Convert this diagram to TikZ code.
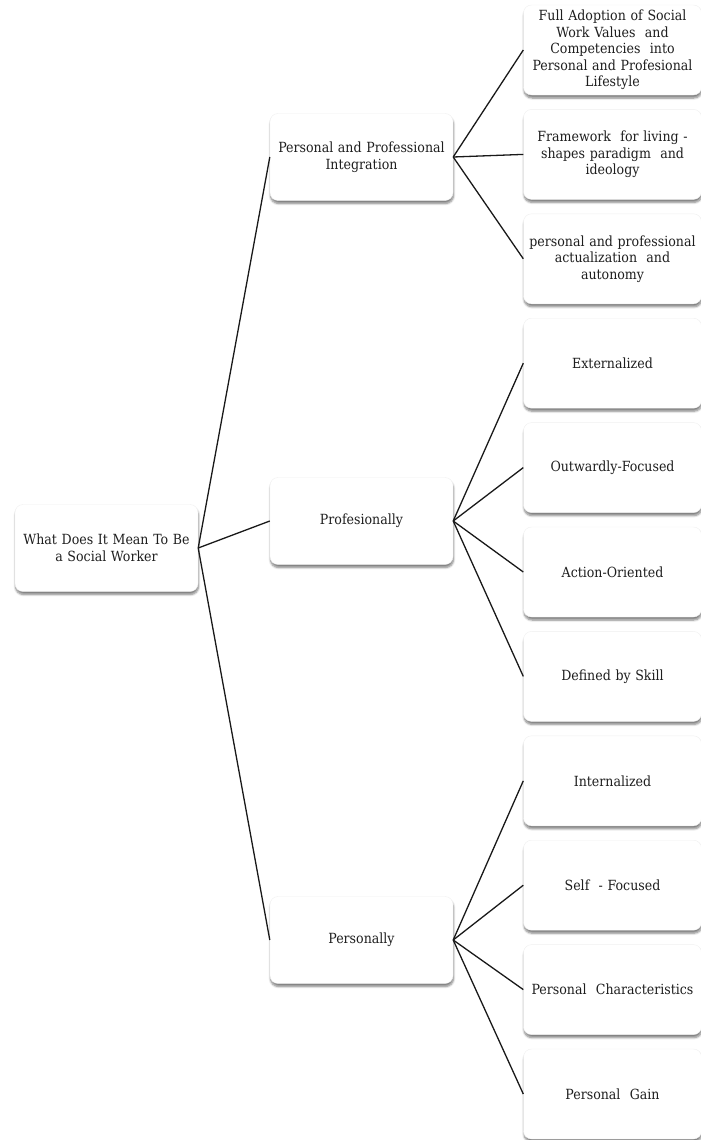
\documentclass[tikz,border=0pt]{standalone}
\usepackage{fontspec}
\setmainfont{DejaVu Serif Condensed}
\usetikzlibrary{shadows.blur}
\definecolor{txt}{HTML}{1E1E1E}
\tikzset{
  box/.style={rounded corners=8pt, fill=white, draw=gray!12, line width=0.4pt,
    blur shadow={shadow xshift=0.5pt, shadow yshift=-3pt, shadow opacity=50, shadow blur steps=6},
    align=center, text=txt, inner sep=2pt,
    font=\fontsize{14}{16.5}\selectfont},
  lone/.style={box, minimum width=183pt, minimum height=87pt, text width=178pt},
  ltwo/.style={box, minimum width=177pt, minimum height=90pt, text width=174pt},
  link/.style={black!90, line width=1.3pt}
}
\begin{document}
\begin{tikzpicture}[x=1pt,y=-1pt]
\useasboundingbox (0,0) rectangle (701,1140);
\node[lone] (root) at (106.5,548) {What Does It Mean To Be\\a Social Worker};
\node[lone] (int) at (361.5,157) {Personal and Professional\\Integration};
\node[lone] (pro) at (361.5,521) {Profesionally};
\node[lone] (per) at (361.5,940) {Personally};

\node[ltwo] (a1) at (612.5,50) {Full Adoption of Social\\Work Values \ and\\Competencies \ into\\Personal and Profesional\\Lifestyle};
\node[ltwo] (a2) at (612.5,154.4) {Framework \ for living -\\shapes paradigm \ and\\ideology};
\node[ltwo] (a3) at (612.5,258.8) {personal and professional\\actualization \ and\\autonomy};
\node[ltwo] (b1) at (612.5,363.2) {Externalized};
\node[ltwo] (b2) at (612.5,467.6) {Outwardly-Focused};
\node[ltwo] (b3) at (612.5,572) {Action-Oriented};
\node[ltwo] (b4) at (612.5,676.4) {Defined by Skill};
\node[ltwo] (c1) at (612.5,780.8) {Internalized};
\node[ltwo] (c2) at (612.5,885.2) {Self \ - Focused};
\node[ltwo] (c3) at (612.5,989.6) {Personal \ Characteristics};
\node[ltwo] (c4) at (612.5,1094) {Personal \ Gain};

\foreach \t in {int,pro,per} \draw[link] (root.east) -- (\t.west);
\foreach \t in {a1,a2,a3} \draw[link] (int.east) -- (\t.west);
\foreach \t in {b1,b2,b3,b4} \draw[link] (pro.east) -- (\t.west);
\foreach \t in {c1,c2,c3,c4} \draw[link] (per.east) -- (\t.west);
\end{tikzpicture}
\end{document}
